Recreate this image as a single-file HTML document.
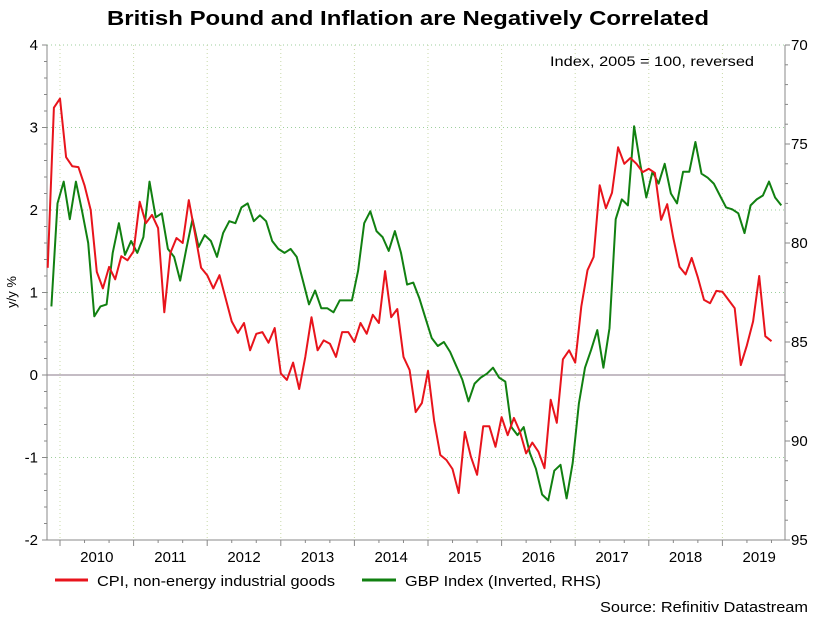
<!DOCTYPE html>
<html><head><meta charset="utf-8">
<style>
html,body{margin:0;padding:0;background:#fff;}
svg{display:block;font-family:"Liberation Sans",Arial,sans-serif;}
</style></head>
<body>
<svg id="chart" width="818" height="631" viewBox="0 0 818 631">
<text x="408" y="25" text-anchor="middle" font-size="20" font-weight="bold" textLength="602" lengthAdjust="spacingAndGlyphs">British Pound and Inflation are Negatively Correlated</text>
<g id="grid"></g>
<g id="axes"></g>
<g id="series"></g>
<text x="754" y="66" text-anchor="end" font-size="14" textLength="204" lengthAdjust="spacingAndGlyphs">Index, 2005 = 100, reversed</text>
<text transform="translate(16,292) rotate(-90)" text-anchor="middle" font-size="13">y/y %</text>
<g>
<g>
<line x1="55" y1="580" x2="88" y2="580" stroke="#e8141c" stroke-width="3"/>
<text x="97" y="586" font-size="15" textLength="238" lengthAdjust="spacingAndGlyphs">CPI, non-energy industrial goods</text>
</g>
<g>
<line x1="362" y1="580" x2="396" y2="580" stroke="#118011" stroke-width="3"/>
<text x="405" y="586" font-size="15" textLength="196" lengthAdjust="spacingAndGlyphs">GBP Index (Inverted, RHS)</text>
</g>
</g>
<text x="808" y="612" text-anchor="end" font-size="15" textLength="208" lengthAdjust="spacingAndGlyphs">Source: Refinitiv Datastream</text>
</svg>
<script>
const years = [2010,2011,2012,2013,2014,2015,2016,2017,2018,2019];
const leftTicks = [4,3,2,1,0,-1,-2];
const rightTicks = [70,75,80,85,90,95];
const cpi = [1.30,3.24,3.35,2.64,2.53,2.52,2.30,2.0,1.25,1.05,1.31,1.16,1.44,1.39,1.5,2.1,1.84,1.94,1.78,0.76,1.48,1.66,1.6,2.12,1.72,1.30,1.21,1.05,1.21,0.93,0.65,0.51,0.63,0.30,0.50,0.52,0.39,0.57,0.02,-0.06,0.15,-0.17,0.22,0.70,0.30,
0.42,0.38,0.22,0.52,0.52,0.40,0.63,0.50,0.73,0.63,1.26,0.70,0.80,0.22,0.06,-0.45,-0.34,0.05,-0.55,-0.97,-1.03,-1.14,-1.43,-0.69,-0.99,-1.21,-0.62,-0.62,-0.87,-0.51,-0.73,-0.52,-0.69,-0.95,-0.82,-0.93,-1.13,-0.30,-0.58,0.19,0.30,0.15,
0.83,1.27,1.43,2.30,2.02,2.21,2.76,2.56,2.63,2.56,2.46,2.50,2.45,1.88,2.07,1.66,1.31,1.22,1.42,1.18,0.91,0.87,1.02,1.01,0.91,0.81,0.12,0.36,0.65,1.2,0.47,0.41];
const gbp = [83.2,78.0,76.9,78.8,76.9,78.4,80.0,83.7,83.2,83.1,80.5,79.0,80.6,79.9,80.5,79.7,76.9,78.7,78.5,80.3,80.7,81.9,80.3,78.8,80.2,79.6,79.9,80.7,79.5,78.9,79.0,78.2,78.0,78.9,78.6,78.9,79.9,80.3,80.5,80.3,80.7,81.9,83.1,82.4,
83.3,83.3,83.5,82.9,82.9,82.9,81.4,79.0,78.4,79.4,79.7,80.4,79.4,80.5,82.1,82.0,82.8,83.8,84.8,85.2,85.0,85.5,86.2,86.9,88.0,87.1,86.8,86.6,86.3,86.8,87.0,89.3,89.7,89.3,90.6,91.4,92.7,93.0,91.5,91.2,92.9,91.1,88.1,
86.3,85.4,84.4,86.3,84.3,78.8,77.8,78.1,74.1,76.0,77.7,76.4,77.0,76.0,77.5,78.0,76.4,76.4,74.9,76.5,76.7,77.0,77.6,78.2,78.3,78.5,79.5,78.1,77.8,77.6,76.9,77.7,78.1];

const NS="http://www.w3.org/2000/svg";
const L=47,R=785,T=45,B=540;
const x0=60, pxYear=73.6;
function xMonth(m){return x0+m/12*pxYear;}
function yL(v){return T+(4-v)/6*(B-T);}
function yR(v){return T+(v-70)/25*(B-T);}
function mk(tag,attrs,parent){const e=document.createElementNS(NS,tag);for(const k in attrs)e.setAttribute(k,attrs[k]);parent.appendChild(e);return e;}
const grid=document.getElementById('grid'),axes=document.getElementById('axes'),series=document.getElementById('series');

leftTicks.forEach(v=>{
  if(v===-2)return;
  const g=mk('line',{x1:L,x2:R,y1:yL(v),y2:yL(v),stroke:v===0?'#8a7a8a':'#9ccf9c','stroke-width':1,'stroke-dasharray':v===0?'':'1,3'},grid);
  
  
});
years.forEach((yr,i)=>{
  const x=xMonth(i*12);
  const g=mk('line',{x1:x,x2:x,y1:T,y2:B,stroke:'#c8d8a8','stroke-width':1,'stroke-dasharray':'1,3'},grid);
  
  
  const t=mk('text',{x:xMonth(i*12+6),y:562,'text-anchor':'middle','font-size':15},axes);
  t.textContent=yr;
  
  
});
mk('line',{x1:L,x2:L,y1:T,y2:B,stroke:'#888','stroke-width':1},axes);
mk('line',{x1:R,x2:R,y1:T,y2:B,stroke:'#888','stroke-width':1},axes);
mk('line',{x1:L,x2:R,y1:B,y2:B,stroke:'#888','stroke-width':1},axes);
for(let v=-2;v<=4.001;v+=0.2){const y=yL(v);mk('line',{x1:L-(Math.abs(v-Math.round(v))<0.01?5:3),x2:L,y1:y,y2:y,stroke:'#888'},axes);}
for(let v=70;v<=95;v++){const y=yR(v);mk('line',{x1:R,x2:R+(v%5===0?5:3),y1:y,y2:y,stroke:'#888'},axes);}
for(let m=-4;m<=120;m+=4){const x=xMonth(m);if(x<L||x>R)continue;mk('line',{x1:x,x2:x,y1:B,y2:B+(m%12===0?6:3),stroke:'#888'},axes);}
leftTicks.forEach(v=>{
  const t=mk('text',{x:38,y:yL(v)+5,'text-anchor':'end','font-size':15},axes);
  t.textContent=v;
  
  
});
rightTicks.forEach(v=>{
  const t=mk('text',{x:791,y:yR(v)+5,'font-size':15},axes);
  t.textContent=v;
  
  
});
const p1=mk('polyline',{points:cpi.map((v,i)=>xMonth(i-2).toFixed(1)+','+yL(v).toFixed(1)).join(' '),fill:'none',stroke:'#e8141c','stroke-width':2,'stroke-linejoin':'round'},series);


const p2=mk('polyline',{points:gbp.map((v,i)=>xMonth(i-1.4).toFixed(1)+','+yR(v).toFixed(1)).join(' '),fill:'none',stroke:'#118011','stroke-width':2,'stroke-linejoin':'round'},series);


series.insertBefore(p2,p1);
</script>
</body></html>
